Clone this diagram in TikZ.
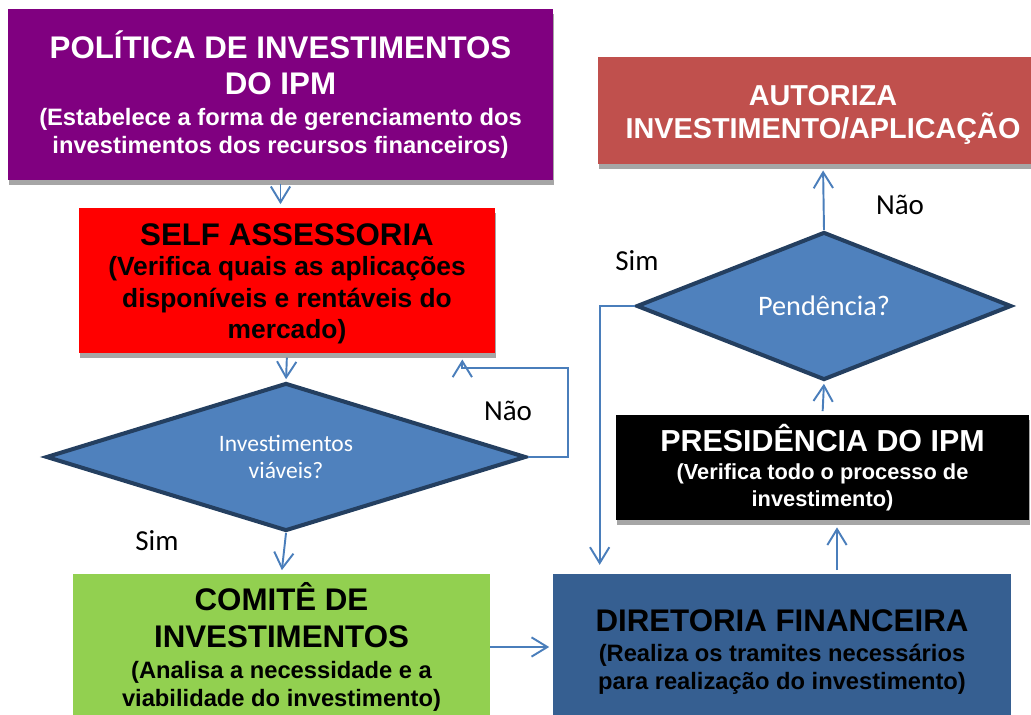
\documentclass[tikz,border=0pt]{standalone}
\usepackage{fontspec}
\setmainfont{Liberation Sans}
\newfontfamily\calib{Carlito}
\usetikzlibrary{arrows.meta, positioning, calc, shapes.geometric, shadows}

\definecolor{polpurple}{HTML}{800080}
\definecolor{selfred}{HTML}{FF0000}
\definecolor{comgreen}{HTML}{92D050}
\definecolor{dirblue}{HTML}{365F91}
\definecolor{autred}{HTML}{C0504D}
\definecolor{decfill}{HTML}{4F81BD}
\definecolor{decline}{HTML}{243F60}
\definecolor{flowblue}{HTML}{4A7EBB}
\definecolor{shadegrey}{HTML}{A6A6A6}

% titulo grande dentro das caixas
\newcommand\hd[1]{{\fontsize{17.8}{20}\selectfont #1}}
% empurra o texto da caixa para baixo
\newcommand\pushdown[1]{\rule{0pt}{#1}}

\tikzset{
  box/.style={rectangle, inner sep=0pt, align=center,
    font=\bfseries\fontsize{13.5}{16}\selectfont},
  boxshadow/.style={drop shadow={shadow xshift=0.02cm, shadow yshift=-0.1cm,
    fill=shadegrey, opacity=1}},
  decision/.style={diamond, aspect=3, draw=decline, line width=2.3pt, fill=decfill,
    text=white, inner sep=0pt, align=center},
  flow/.style={draw=flowblue, line width=1.1pt,
    -{Straight Barb[length=9pt, width=11pt]}},
  answer/.style={font=\calib\fontsize{16.5}{19}\selectfont},
}

\begin{document}
\begin{tikzpicture}[x=0.02cm, y=-0.02cm]
  \useasboundingbox (0,0) rectangle (1031,715);

  % caixas da coluna esquerda
  \node[box, boxshadow, fill=polpurple, text=white,
    minimum width=10.9cm, minimum height=3.42cm] (pol) at (280.5,94.5)
    {\hd{\pushdown{15pt}POLÍTICA DE INVESTIMENTOS}\\[4.5pt]\hd{DO IPM}\\[2pt]
     (Estabelece a forma de gerenciamento dos\\
     investimentos dos recursos financeiros)};
  \node[box, boxshadow, fill=selfred, text=black,
    font=\bfseries\fontsize{15}{17.8}\selectfont,
    minimum width=8.32cm, minimum height=2.9cm] (self) at (287,280.5)
    {\hd{\pushdown{16pt}SELF ASSESSORIA}\\[-0.5pt]
     (Verifica quais as aplicações\\
     disponíveis e rentáveis do\\
     mercado)};
  \node[decision, minimum width=9.6cm, minimum height=2.96cm,
    font=\calib\fontsize{13.4}{15.3}\selectfont] (viav) at (286,457)
    {Investimentos\\viáveis?};
  \node[box, fill=comgreen, text=black,
    minimum width=8.34cm, minimum height=2.92cm] (comite) at (281.5,647)
    {\hd{COMITÊ DE}\\[5pt]\hd{INVESTIMENTOS}\\[2pt]
     (Analisa a necessidade e a\\
     viabilidade do investimento)};

  % caixas da coluna direita
  \node[box, fill=dirblue, text=black,
    minimum width=9.16cm, minimum height=2.92cm] (dir) at (782,647)
    {\hd{\pushdown{18.3pt}DIRETORIA FINANCEIRA}\\[1pt]
     (Realiza os tramites necessários\\
     para realização do investimento)};
  \node[box, boxshadow, fill=black, text=white,
    font=\bfseries\fontsize{12.4}{15.3}\selectfont,
    minimum width=8.26cm, minimum height=2.1cm] (pres) at (822.5,467.5)
    {{\fontsize{17.3}{20}\selectfont\pushdown{14pt}PRESIDÊNCIA DO IPM}\\[1pt]
     (Verifica todo o processo de\\
     investimento)};
  \node[decision, minimum width=7.5cm, minimum height=2.96cm,
    font=\calib\fontsize{16.1}{19}\selectfont] (pend) at (824,306)
    {Pendência?};
  \node[box, boxshadow, fill=autred, text=white,
    font=\bfseries\fontsize{16.4}{19}\selectfont,
    minimum width=9cm, minimum height=2.14cm] (aut) at (823,110.5)
    {\pushdown{16.7pt}AUTORIZA\\INVESTIMENTO/APLICAÇÃO};

  % respostas
  \node[answer] (simA) at (157,541) {Sim};
  \node[answer] (naoA) at (508,411) {Não};
  \node[answer] (simB) at (637,261) {Sim};
  \node[answer] (naoB) at (900,205) {Não};

  \coordinate (loop) at (568,368);

  % ligacoes
  \draw[flow, shorten <=2pt, shorten >=2pt] (pol.south) -- (pol.south |- self.north);
  \draw[flow, shorten <=2.5pt, shorten >=1pt] (self.south) -- (viav.north);
  \draw[flow, shorten >=2pt] (viav.south) -- (comite.north);
  \draw[flow, shorten >=2pt] (comite.east) -- (dir.west);
  \draw[flow, shorten <=2pt, shorten >=4pt] ([xshift=.29cm]pres.south |- dir.north) -- ([xshift=.29cm]pres.south);
  \draw[flow, shorten <=2pt, shorten >=1pt] (pres.north) -- (pend.south);
  \draw[flow, shorten >=3.5pt] (pend.north) -- (aut.south);
  \draw[flow, shorten >=5pt] (pend.west) -| ([xshift=.94cm]dir.north west);
  \draw[flow, shorten >=3.5pt] (viav.east) -| (loop) -| ([xshift=-.66cm]self.south east);
\end{tikzpicture}
\end{document}
